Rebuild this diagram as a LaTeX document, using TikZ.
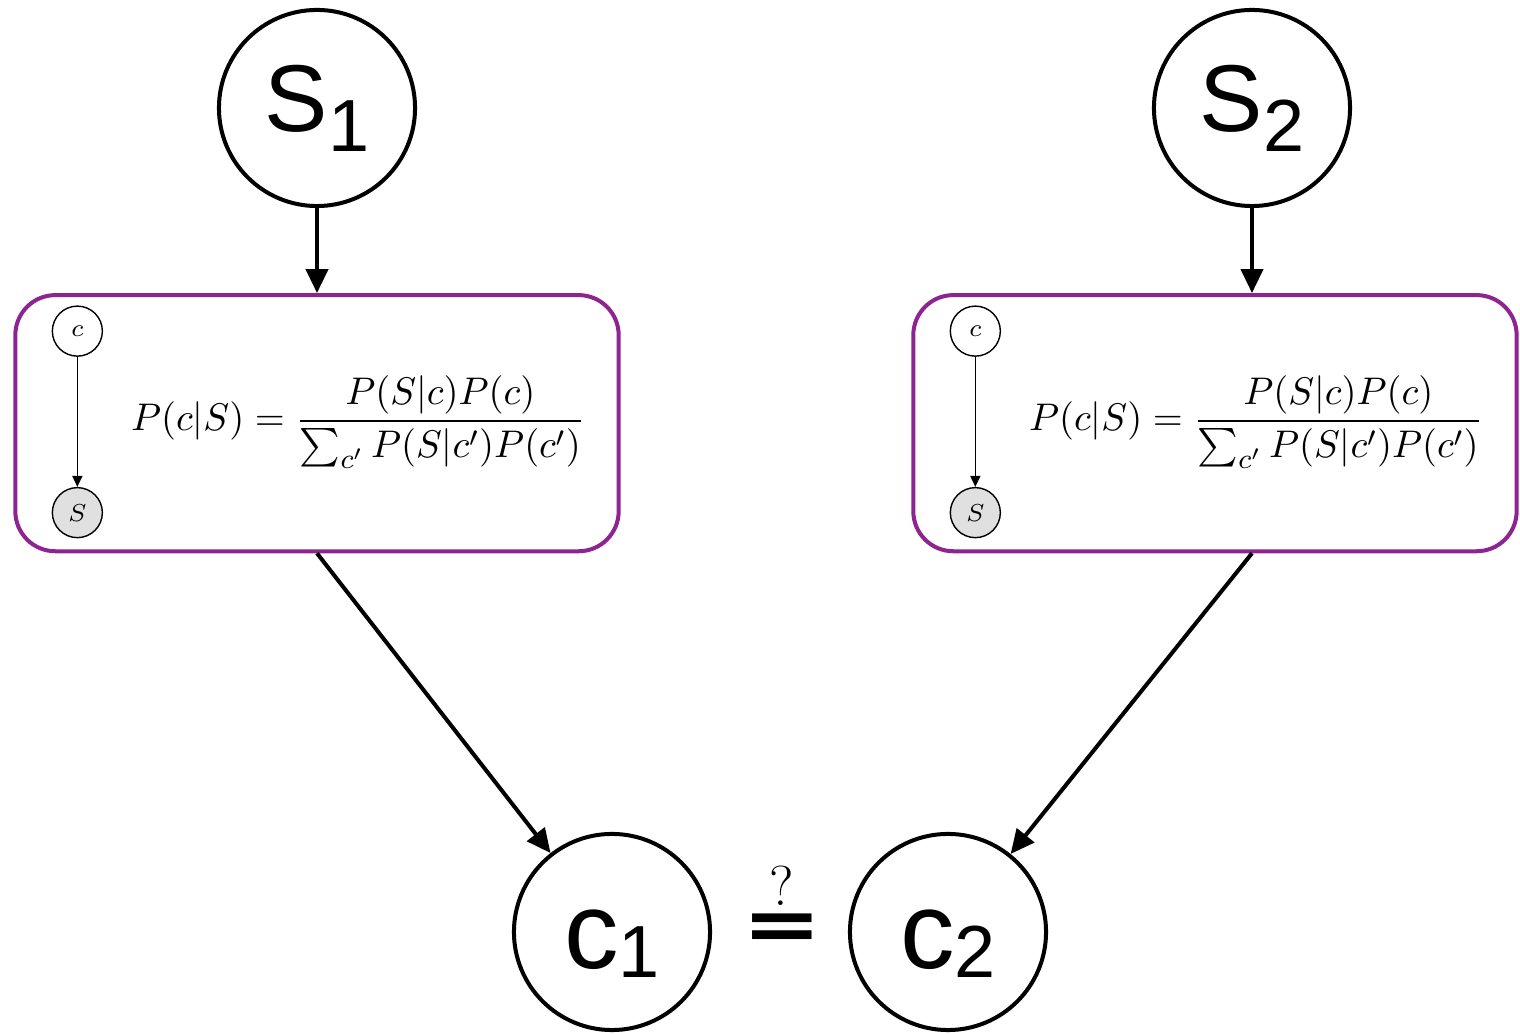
\documentclass[tikz,border=0pt]{standalone}
\usepackage{amsmath}
\usepackage{fontspec}
\newfontfamily\arialfont{Liberation Sans}
\newfontfamily\eqfont{DejaVu Sans}
\usetikzlibrary{positioning, arrows.meta}
\definecolor{boxpurple}{RGB}{142,36,146}
\definecolor{obsgray}{RGB}{224,224,224}

\begin{document}
\begin{tikzpicture}[
  x=0.01cm, y=-0.01cm,
  var/.style={
    circle, draw, line width=1.14pt,
    minimum size=1.96cm, inner sep=0pt,
    font=\arialfont
  },
  model/.style={
    rectangle, rounded corners=0.4cm,
    draw=boxpurple, line width=1.14pt,
    minimum width=6.03cm, minimum height=2.56cm,
    inner sep=0pt
  },
  smallvar/.style={
    circle, draw, line width=0.4pt,
    minimum size=0.5cm, inner sep=0pt,
    font=\fontsize{7}{8}\selectfont
  },
  obs/.style={
    fill=obsgray
  },
  arr/.style={
    -{Triangle[length=0.24cm, width=0.22cm]}, line width=1.14pt
  },
  link/.style={
    -{Triangle[length=0.11cm, width=0.1cm]}, line width=0.4pt
  }
]
\useasboundingbox (0,0) rectangle (1520,1034);

% ================= Inputs =================
\node[var, text height=19.3pt, text depth=5.7pt] (S1) at (317,108)
  {\fontsize{27}{27}\selectfont S\raisebox{-5.7pt}{\fontsize{21}{21}\selectfont 1}};
\node[var, text height=19.3pt, text depth=5.7pt] (S2) at (1252,108)
  {\fontsize{27}{27}\selectfont S\raisebox{-5.7pt}{\fontsize{21}{21}\selectfont 2}};

% ================= Bayesian models =================
\node[model, below=0.85cm of S1] (Post1) {};
\node[model, below=0.85cm of S2, xshift=-0.37cm] (Post2) {};

\node[smallvar, anchor=center] (cvar1) at ([xshift=0.64cm, yshift=-0.38cm]Post1.north west) {$c$};
\node[smallvar, obs, below=1.3cm of cvar1] (Svar1) {$S$};
\node[font=\fontsize{11.2}{13}\selectfont] (Bayes1) at ([xshift=0.41cm, yshift=0.01cm]Post1.center)
  {$\displaystyle P(c|S) = \frac{P(S|c)P(c)}{\sum_{c'} P(S|c')P(c')}$};

\node[smallvar, anchor=center] (cvar2) at ([xshift=0.64cm, yshift=-0.38cm]Post2.north west) {$c$};
\node[smallvar, obs, below=1.3cm of cvar2] (Svar2) {$S$};
\node[font=\fontsize{11.2}{13}\selectfont] (Bayes2) at ([xshift=0.41cm, yshift=0.01cm]Post2.center)
  {$\displaystyle P(c|S) = \frac{P(S|c)P(c)}{\sum_{c'} P(S|c')P(c')}$};

% ================= Outputs =================
\node[var, text height=23.5pt, text depth=2.5pt] (C1) at (612,932)
  {\fontsize{31}{31}\selectfont c\raisebox{-2.5pt}{\fontsize{21}{21}\selectfont 1}};
\node[var, text height=23.5pt, text depth=2.5pt] (C2) at (948,932)
  {\fontsize{31}{31}\selectfont c\raisebox{-2.5pt}{\fontsize{21}{21}\selectfont 2}};

\node[inner sep=0pt] (EqSign) at (782,932)
  {\eqfont\fontsize{27}{27}\selectfont\scalebox{1}[0.8]{\bfseries =}};
\node[inner sep=0pt, font=\fontsize{16}{16}\selectfont] (Qmark) at (782,886) {?};

% ================= Connections =================
\draw[arr] (S1.south) -- (S1.south |- Post1.north);
\draw[arr] (S2.south) -- (S2.south |- Post2.north);

\draw[link] (cvar1) -- (Svar1);
\draw[link] (cvar2) -- (Svar2);

\draw[arr] (Post1.south) -- (C1);
\draw[arr] (S2.south |- Post2.south) -- (C2);

\end{tikzpicture}
\end{document}
